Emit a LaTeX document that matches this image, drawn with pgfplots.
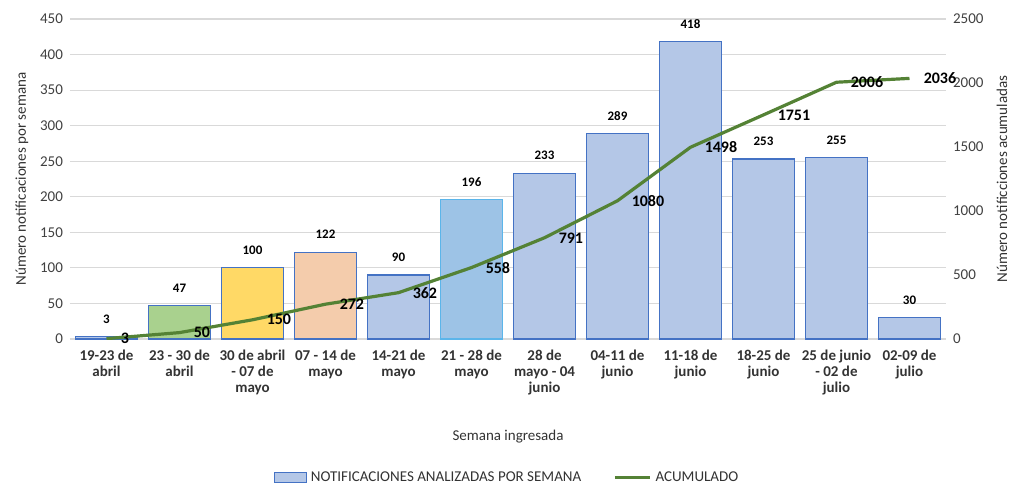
\documentclass[border=0pt]{standalone}
\usepackage{pgfplots}
\pgfplotsset{compat=1.18}
\usepackage{fontspec}
\setmainfont{Carlito}
\definecolor{barblue}{HTML}{B4C7E7}
\definecolor{barline}{HTML}{4472C4}
\definecolor{bargreen}{HTML}{A9D18E}
\definecolor{baryellow}{HTML}{FFD966}
\definecolor{barpeach}{HTML}{F4CCAC}
\definecolor{barsky}{HTML}{9DC3E6}
\definecolor{skyline}{HTML}{5BB5EA}
\definecolor{linegreen}{HTML}{548235}
\definecolor{gridgray}{HTML}{D9D9D9}
\pgfplotsset{
  base/.style={
    at={(0,0)}, anchor=south west,
    scale only axis, width=438pt, height=160pt,
    xmin=-0.5, xmax=11.5,
    axis line style={draw=none},
    major tick length=0pt,
    /pgf/number format/assume math mode=true,
    /pgf/number format/1000 sep={},
    tick label style={font=\fontsize{7.5}{9}\selectfont, color=black!75},
    label style={font=\fontsize{7.5}{9}\selectfont, color=black!80},
  },
  barlab/.style={nodes near coords,
    nodes near coords style={font=\bfseries\fontsize{6.5}{7}\selectfont, yshift=3pt, black}},
  lineleg/.style={legend image code/.code={\draw[##1] (0pt,0pt) -- (17.5pt,0pt);}},
  barleg/.style={legend image code/.code={\draw[##1] (0pt,-2.5pt) rectangle (16pt,2.5pt);}},
}
\begin{document}
\begin{tikzpicture}
\path[use as bounding box] (-35pt,-75pt) rectangle (474.5pt,169.5pt);
\begin{axis}[base,
  ymin=0, ymax=450, ytick={0,50,...,450},
  ymajorgrids, grid style={gridgray, line width=0.6pt},
  xtick={0,...,11},
  xticklabels={{19-23 de\\abril},{23 - 30 de\\abril},{30 de abril\\- 07 de\\mayo},
    {07 - 14 de\\mayo},{14-21 de\\mayo},{21 - 28 de\\mayo},{28 de\\mayo - 04\\junio},
    {04-11 de\\junio},{11-18 de\\junio},{18-25 de\\junio},{25 de junio\\- 02 de\\julio},
    {02-09 de\\julio}},
  xticklabel style={align=center, font=\bfseries\fontsize{7.5}{8}\selectfont, color=black!80, yshift=-2pt},
  ylabel={Número notificaciones por semana},
  ylabel style={at={(axis description cs:-0.055,0.5)}, anchor=center},
  xlabel={Semana ingresada},
  xlabel style={at={(axis description cs:0.5,-0.306)}, anchor=center},
  ybar, bar width=31pt,
]
\addplot[fill=barblue, draw=barline, line width=0.6pt, bar shift=0pt, barlab] coordinates {
  (0,3) (4,90) (6,233) (7,289) (8,418) (9,253) (10,255) (11,30)};
\addplot[fill=bargreen, draw=barline, line width=0.6pt, bar shift=0pt, barlab] coordinates {(1,47)};
\addplot[fill=baryellow, draw=barline, line width=0.6pt, bar shift=0pt, barlab] coordinates {(2,100)};
\addplot[fill=barpeach, draw=barline, line width=0.6pt, bar shift=0pt, barlab] coordinates {(3,122)};
\addplot[fill=barsky, draw=skyline, line width=0.6pt, bar shift=0pt, barlab] coordinates {(5,196)};
\end{axis}
\begin{axis}[base,
  ymin=0, ymax=2500, ytick={0,500,...,2500},
  axis x line=none, axis y line*=right,
  ylabel={Número notificciones acumuladas},
  ylabel style={at={(axis description cs:1.064,0.5)}, anchor=center},
  legend style={at={(0.5,-0.434)}, anchor=center, legend columns=2, draw=none,
    font=\fontsize{7.5}{9}\selectfont, text=black!80,
    /tikz/every even column/.append style={column sep=14pt}},
]
\addlegendimage{barleg, fill=barblue, draw=barline, line width=0.6pt}
\addlegendentry{NOTIFICACIONES ANALIZADAS POR SEMANA}
\addplot[linegreen, line width=1.6pt, mark=none, lineleg, nodes near coords,
  nodes near coords style={anchor=west, xshift=3pt, font=\bfseries\fontsize{8}{9}\selectfont, black}]
  coordinates {(0,3) (1,50) (2,150) (3,272) (4,362) (5,558) (6,791) (7,1080)
    (8,1498) (9,1751) (10,2006) (11,2036)};
\addlegendentry{ACUMULADO}
\end{axis}
\end{tikzpicture}
\end{document}
